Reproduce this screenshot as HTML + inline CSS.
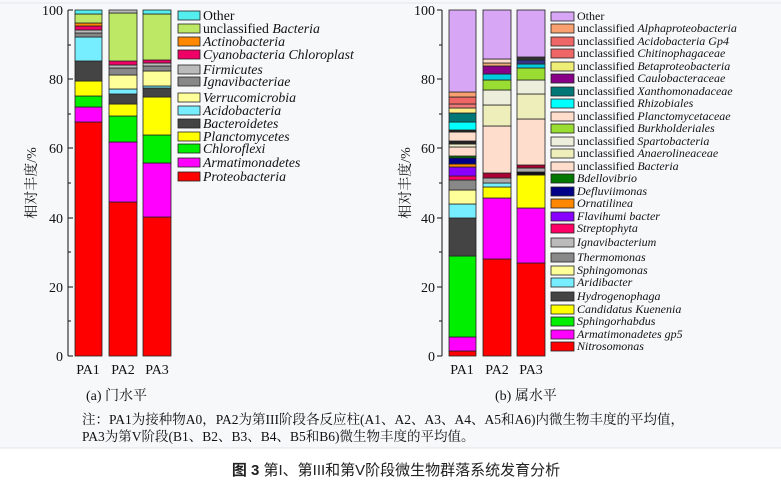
<!DOCTYPE html>
<html><head><meta charset="utf-8"><style>
body{margin:0;width:781px;height:487px;background:#fff;overflow:hidden}
svg{display:block}
.t{font-family:"Liberation Serif","Noto Serif CJK SC",serif;font-size:13px;fill:#111}
.i{font-style:italic}
.k{font-family:"Liberation Serif","Noto Serif CJK SC",serif;font-size:14px;fill:#111}
</style></head><body>
<svg width="781" height="487" xmlns="http://www.w3.org/2000/svg">
<rect x="0" y="0" width="781" height="448" fill="#f7f8fa"/>
<line x1="0" y1="3" x2="781" y2="3" stroke="#e4e6ea"/>
<line x1="0" y1="448" x2="781" y2="448" stroke="#e2e4e8"/>
<g stroke="#222" stroke-width="0.8">
<rect x="75" y="122" width="27" height="234" fill="#f00"/>
<rect x="75" y="107" width="27" height="15" fill="#f0f"/>
<rect x="75" y="96" width="27" height="11" fill="#0e0"/>
<rect x="75" y="81" width="27" height="15" fill="#ff0"/>
<rect x="75" y="61" width="27" height="20" fill="#444"/>
<rect x="75" y="37" width="27" height="24" fill="#7ef"/>
<rect x="75" y="33" width="27" height="4" fill="#888"/>
<rect x="75" y="30" width="27" height="3" fill="#bbb"/>
<rect x="75" y="26" width="27" height="4" fill="#e06"/>
<rect x="75" y="23" width="27" height="3" fill="#f80"/>
<rect x="75" y="14" width="27" height="9" fill="#bde865"/>
<rect x="75" y="10" width="27" height="4" fill="#5ee"/>
<rect x="109" y="202" width="28" height="154" fill="#f00"/>
<rect x="109" y="142" width="28" height="60" fill="#f0f"/>
<rect x="109" y="116" width="28" height="26" fill="#0e0"/>
<rect x="109" y="104" width="28" height="12" fill="#ff0"/>
<rect x="109" y="94" width="28" height="10" fill="#444"/>
<rect x="109" y="89" width="28" height="5" fill="#7ef"/>
<rect x="109" y="75" width="28" height="14" fill="#ff9"/>
<rect x="109" y="68" width="28" height="7" fill="#888"/>
<rect x="109" y="65" width="28" height="3" fill="#bbb"/>
<rect x="109" y="61" width="28" height="4" fill="#e06"/>
<rect x="109" y="13" width="28" height="48" fill="#bde865"/>
<rect x="109" y="10" width="28" height="3" fill="#bbb"/>
<rect x="143" y="217" width="28" height="139" fill="#f00"/>
<rect x="143" y="163" width="28" height="54" fill="#f0f"/>
<rect x="143" y="135" width="28" height="28" fill="#0e0"/>
<rect x="143" y="97" width="28" height="38" fill="#ff0"/>
<rect x="143" y="88" width="28" height="9" fill="#444"/>
<rect x="143" y="86" width="28" height="2" fill="#7ef"/>
<rect x="143" y="71" width="28" height="15" fill="#ff9"/>
<rect x="143" y="66" width="28" height="5" fill="#888"/>
<rect x="143" y="63" width="28" height="3" fill="#bbb"/>
<rect x="143" y="60" width="28" height="3" fill="#e06"/>
<rect x="143" y="14" width="28" height="46" fill="#bde865"/>
<rect x="143" y="10" width="28" height="4" fill="#5ee"/>

<rect x="449" y="351" width="27" height="5" fill="#f00"/>
<rect x="449" y="337" width="27" height="14" fill="#f0f"/>
<rect x="449" y="256" width="27" height="81" fill="#0e0"/>
<rect x="449" y="218" width="27" height="38" fill="#444"/>
<rect x="449" y="204" width="27" height="14" fill="#7ef"/>
<rect x="449" y="190" width="27" height="14" fill="#ff9"/>
<rect x="449" y="180" width="27" height="10" fill="#888"/>
<rect x="449" y="176" width="27" height="4" fill="#f06"/>
<rect x="449" y="167" width="27" height="9" fill="#80f"/>
<rect x="449" y="164" width="27" height="3" fill="#f80"/>
<rect x="449" y="158" width="27" height="6" fill="#008"/>
<rect x="449" y="156" width="27" height="2" fill="#070"/>
<rect x="449" y="147" width="27" height="9" fill="#fdc"/>
<rect x="449" y="144" width="27" height="3" fill="#eec"/>
<rect x="449" y="141" width="27" height="3" fill="#222"/>
<rect x="449" y="132" width="27" height="9" fill="#fdc"/>
<rect x="449" y="130" width="27" height="2" fill="#222"/>
<rect x="449" y="122" width="27" height="8" fill="#0ff"/>
<rect x="449" y="113" width="27" height="9" fill="#077"/>
<rect x="449" y="108" width="27" height="5" fill="#fe8"/>
<rect x="449" y="104" width="27" height="4" fill="#e77"/>
<rect x="449" y="97" width="27" height="7" fill="#e66"/>
<rect x="449" y="92" width="27" height="5" fill="#f9a070"/>
<rect x="449" y="10" width="27" height="82" fill="#d7a6f5"/>
<rect x="483" y="259" width="28" height="97" fill="#f00"/>
<rect x="483" y="198" width="28" height="61" fill="#f0f"/>
<rect x="483" y="187" width="28" height="11" fill="#ff0"/>
<rect x="483" y="183" width="28" height="4" fill="#7ef"/>
<rect x="483" y="178" width="28" height="5" fill="#aaa"/>
<rect x="483" y="173" width="28" height="5" fill="#a03"/>
<rect x="483" y="126" width="28" height="47" fill="#fdc"/>
<rect x="483" y="105" width="28" height="21" fill="#eeb"/>
<rect x="483" y="90" width="28" height="15" fill="#eed"/>
<rect x="483" y="80" width="28" height="10" fill="#9d3"/>
<rect x="483" y="74" width="28" height="6" fill="#0cd"/>
<rect x="483" y="66" width="28" height="8" fill="#808"/>
<rect x="483" y="63" width="28" height="3" fill="#ea7"/>
<rect x="483" y="59" width="28" height="4" fill="#fdc"/>
<rect x="483" y="10" width="28" height="49" fill="#d7a6f5"/>
<rect x="517" y="263" width="28" height="93" fill="#f00"/>
<rect x="517" y="208" width="28" height="55" fill="#f0f"/>
<rect x="517" y="175" width="28" height="33" fill="#ff0"/>
<rect x="517" y="172" width="28" height="3" fill="#111"/>
<rect x="517" y="168" width="28" height="4" fill="#aaa"/>
<rect x="517" y="165" width="28" height="3" fill="#a03"/>
<rect x="517" y="119" width="28" height="46" fill="#fdc"/>
<rect x="517" y="94" width="28" height="25" fill="#eeb"/>
<rect x="517" y="80" width="28" height="14" fill="#eed"/>
<rect x="517" y="68" width="28" height="12" fill="#9d3"/>
<rect x="517" y="64" width="28" height="4" fill="#0cd"/>
<rect x="517" y="60" width="28" height="4" fill="#338"/>
<rect x="517" y="57" width="28" height="3" fill="#333"/>
<rect x="517" y="10" width="28" height="47" fill="#d7a6f5"/>
</g>

<g stroke="#111" stroke-width="1">
<line x1="68" y1="10" x2="68" y2="356"/>
<line x1="442" y1="10" x2="442" y2="356"/>
<path d="M68 10h5M68 79h5M68 148h5M68 218h5M68 287h5M68 356h5M68 45h3M68 114h3M68 183h3M68 252h3M68 321h3"/>
<path d="M442 10h-5M442 79h-5M442 148h-5M442 218h-5M442 287h-5M442 356h-5M442 45h-3M442 114h-3M442 183h-3M442 252h-3M442 321h-3"/>
</g>
<g class="k" text-anchor="end">
<text x="63" y="15">100</text><text x="63" y="84">80</text><text x="63" y="153">60</text><text x="63" y="223">40</text><text x="63" y="292">20</text><text x="63" y="361">0</text>
<text x="435" y="15">100</text><text x="435" y="84">80</text><text x="435" y="153">60</text><text x="435" y="223">40</text><text x="435" y="292">20</text><text x="435" y="361">0</text>
</g>
<text class="k" transform="translate(36,183) rotate(-90)" text-anchor="middle">相对丰度/%</text>
<text class="k" transform="translate(410,183) rotate(-90)" text-anchor="middle">相对丰度/%</text>
<g class="k" text-anchor="middle">
<text x="88" y="374">PA1</text><text x="123" y="374">PA2</text><text x="157" y="374">PA3</text>
<text x="462" y="374">PA1</text><text x="497" y="374">PA2</text><text x="531" y="374">PA3</text>
</g>
<text class="k" x="86" y="400">(a) 门水平</text>
<text class="k" x="495" y="400">(b) 属水平</text>
<text class="k" x="82" y="424" style="font-size:13.5px">注：PA1为接种物A0，PA2为第III阶段各反应柱(A1、A2、A3、A4、A5和A6)内微生物丰度的平均值，</text>
<text class="k" x="82" y="441" style="font-size:13.5px">PA3为第V阶段(B1、B2、B3、B4、B5和B6)微生物丰度的平均值。</text>
<text x="396" y="475" text-anchor="middle" style="font-family:'Liberation Sans','Noto Sans CJK SC',sans-serif;font-size:15px;fill:#222"><tspan font-weight="bold">图 3</tspan> 第I、第III和第V阶段微生物群落系统发育分析</text>

<g stroke="#222" stroke-width="0.8">
<rect x="178" y="11" width="22" height="9" fill="#5ee"/>
<rect x="178" y="24" width="22" height="9" fill="#bde865"/>
<rect x="178" y="37" width="22" height="9" fill="#f80"/>
<rect x="178" y="50" width="22" height="9" fill="#e06"/>
<rect x="178" y="65" width="22" height="9" fill="#bbb"/>
<rect x="178" y="77" width="22" height="9" fill="#888"/>
<rect x="178" y="93" width="22" height="9" fill="#ff9"/>
<rect x="178" y="106" width="22" height="9" fill="#7ef"/>
<rect x="178" y="119" width="22" height="9" fill="#444"/>
<rect x="178" y="132" width="22" height="9" fill="#ff0"/>
<rect x="178" y="144" width="22" height="9" fill="#0e0"/>
<rect x="178" y="158" width="22" height="9" fill="#f0f"/>
<rect x="178" y="172" width="22" height="9" fill="#f00"/>
</g>
<g class="t" style="font-size:13.8px">
<text x="203" y="20">Other</text>
<text x="203" y="33">unclassified <tspan class="i">Bacteria</tspan></text>
<g class="i">
<text x="203" y="46">Actinobacteria</text>
<text x="203" y="59">Cyanobacteria Chloroplast</text>
<text x="203" y="74">Firmicutes</text>
<text x="203" y="86">Ignavibacteriae</text>
<text x="203" y="102">Verrucomicrobia</text>
<text x="203" y="115">Acidobacteria</text>
<text x="203" y="128">Bacteroidetes</text>
<text x="203" y="141">Planctomycetes</text>
<text x="203" y="153">Chloroflexi</text>
<text x="203" y="167">Armatimonadetes</text>
<text x="203" y="181">Proteobacteria</text>
</g>
</g>

<g stroke="#222" stroke-width="0.8">
<rect x="551" y="12" width="23" height="9" fill="#d7a6f5"/>
<rect x="551" y="24" width="23" height="9" fill="#f9a070"/>
<rect x="551" y="37" width="23" height="9" fill="#e66"/>
<rect x="551" y="49" width="23" height="9" fill="#e66"/>
<rect x="551" y="62" width="23" height="9" fill="#ee7"/>
<rect x="551" y="74" width="23" height="9" fill="#808"/>
<rect x="551" y="87" width="23" height="9" fill="#077"/>
<rect x="551" y="99" width="23" height="9" fill="#0ff"/>
<rect x="551" y="112" width="23" height="9" fill="#fdc"/>
<rect x="551" y="124" width="23" height="9" fill="#9d3"/>
<rect x="551" y="137" width="23" height="9" fill="#eed"/>
<rect x="551" y="149" width="23" height="9" fill="#eeb"/>
<rect x="551" y="162" width="23" height="9" fill="#fdc"/>
<rect x="551" y="174" width="23" height="9" fill="#070"/>
<rect x="551" y="187" width="23" height="9" fill="#008"/>
<rect x="551" y="199" width="23" height="9" fill="#f80"/>
<rect x="551" y="212" width="23" height="9" fill="#80f"/>
<rect x="551" y="224" width="23" height="9" fill="#f06"/>
<rect x="551" y="238" width="23" height="9" fill="#bbb"/>
<rect x="551" y="253" width="23" height="9" fill="#888"/>
<rect x="551" y="266" width="23" height="9" fill="#ff9"/>
<rect x="551" y="278" width="23" height="9" fill="#7ef"/>
<rect x="551" y="292" width="23" height="9" fill="#444"/>
<rect x="551" y="305" width="23" height="9" fill="#ff0"/>
<rect x="551" y="317" width="23" height="9" fill="#0e0"/>
<rect x="551" y="330" width="23" height="9" fill="#f0f"/>
<rect x="551" y="342" width="23" height="9" fill="#f00"/>
</g>
<g class="t" style="font-size:12px">
<text x="577" y="20">Other</text>
<text x="577" y="32">unclassified <tspan class="i">Alphaproteobacteria</tspan></text>
<text x="577" y="45">unclassified <tspan class="i">Acidobacteria Gp4</tspan></text>
<text x="577" y="57">unclassified <tspan class="i">Chitinophagaceae</tspan></text>
<text x="577" y="70">unclassified <tspan class="i">Betaproteobacteria</tspan></text>
<text x="577" y="82">unclassified <tspan class="i">Caulobacteraceae</tspan></text>
<text x="577" y="95">unclassified  <tspan class="i">Xanthomonadaceae</tspan></text>
<text x="577" y="107">unclassified <tspan class="i">Rhizobiales</tspan></text>
<text x="577" y="120">unclassified <tspan class="i">Planctomycetaceae</tspan></text>
<text x="577" y="132">unclassified  <tspan class="i">Burkholderiales</tspan></text>
<text x="577" y="145">unclassified <tspan class="i">Spartobacteria</tspan></text>
<text x="577" y="157">unclassified <tspan class="i">Anaerolineaceae</tspan></text>
<text x="577" y="170">unclassified <tspan class="i">Bacteria</tspan></text>
<g class="i">
<text x="577" y="182">Bdellovibrio</text>
<text x="577" y="195">Defluviimonas</text>
<text x="577" y="207">Ornatilinea</text>
<text x="577" y="220">Flavihumi bacter</text>
<text x="577" y="232">Streptophyta</text>
<text x="577" y="246">Ignavibacterium</text>
<text x="577" y="261">Thermomonas</text>
<text x="577" y="274">Sphingomonas</text>
<text x="577" y="286">Aridibacter</text>
<text x="577" y="300">Hydrogenophaga</text>
<text x="577" y="313">Candidatus Kuenenia</text>
<text x="577" y="325">Sphingorhabdus</text>
<text x="577" y="338">Armatimonadetes gp5</text>
<text x="577" y="350">Nitrosomonas</text>
</g>
</g>
</svg>
</body></html>
